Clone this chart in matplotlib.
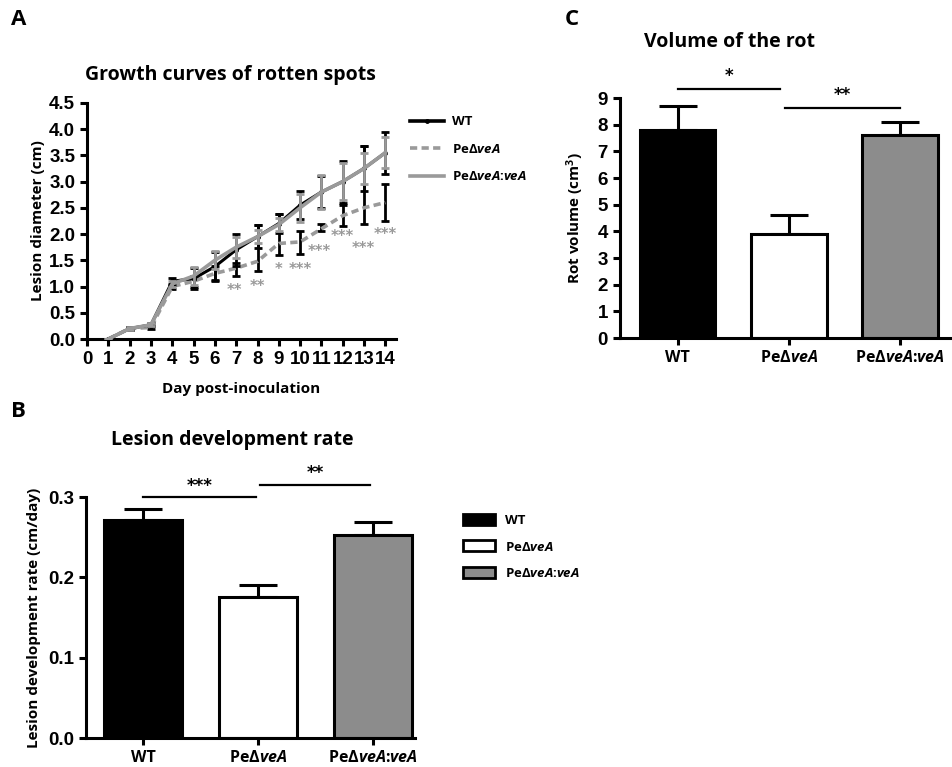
import numpy as np
import matplotlib
matplotlib.use("Agg")
from matplotlib import pyplot as plt
from matplotlib.patches import Patch
from matplotlib.lines import Line2D

plt.rcParams['font.family'] = ['Open Sans', 'DejaVu Sans']
plt.rcParams['font.weight'] = 'bold'
plt.rcParams['axes.labelweight'] = 'bold'
plt.rcParams['mathtext.fontset'] = 'custom'
plt.rcParams['mathtext.it'] = 'Open Sans:italic:bold'
plt.rcParams['mathtext.rm'] = 'Open Sans:bold'

# ---- data ----
strains = ['WT', 'PeΔ$\\mathit{veA}$', 'PeΔ$\\mathit{veA}$:$\\mathit{veA}$']

days = [1, 2, 3, 4, 5, 6, 7, 8, 9, 10, 11, 12, 13, 14]
wt_diam = [0.0, 0.2, 0.27, 1.1, 1.15, 1.38, 1.7, 1.95, 2.2, 2.55, 2.8, 3.0, 3.25, 3.55]
wt_err = [0.0, 0.02, 0.03, 0.07, 0.2, 0.27, 0.3, 0.22, 0.18, 0.27, 0.3, 0.4, 0.43, 0.4]
dv_diam = [0.0, 0.2, 0.22, 1.0, 1.1, 1.25, 1.35, 1.48, 1.82, 1.85, 2.1, 2.35, 2.5, 2.6]
dv_err_lo = [0.0, 0.02, 0.02, 0.05, 0.1, 0.12, 0.15, 0.18, 0.22, 0.23, 0.05, 0.2, 0.3, 0.35]
dv_err_hi = [0.0, 0.02, 0.02, 0.05, 0.1, 0.15, 0.1, 0.69, 0.56, 0.2, 0.1, 0.2, 1.18, 0.35]
cp_diam = [0.0, 0.2, 0.27, 1.05, 1.2, 1.5, 1.75, 1.95, 2.18, 2.5, 2.8, 3.0, 3.25, 3.55]
cp_err = [0.0, 0.02, 0.03, 0.05, 0.17, 0.17, 0.2, 0.12, 0.12, 0.27, 0.33, 0.35, 0.3, 0.3]

star_days = [6.9, 8.0, 9.0, 10.0, 10.9, 12.0, 12.95, 14.0]
star_y = [0.92, 1.0, 1.33, 1.33, 1.66, 1.96, 1.72, 2.0]
star_txt = ['**', '**', '*', '***', '***', '***', '***', '***']

rate = [0.272, 0.176, 0.253]
rate_err = [0.013, 0.014, 0.016]

volume = [7.8, 3.9, 7.6]
volume_err = [0.9, 0.72, 0.5]

bar_colors = ['black', 'white', '#8c8c8c']
gray = '#9a9a9a'
lw = 2.2

fig = plt.figure(figsize=(9.52, 7.67), dpi=100)

def style_axes(ax):
	for s in ['top', 'right']:
		ax.spines[s].set_visible(False)
	for s in ['left', 'bottom']:
		ax.spines[s].set_linewidth(lw)
	ax.tick_params(width=lw, length=5, direction='out')
	for lab in ax.get_yticklabels():
		lab.set_family('Liberation Sans')
		lab.set_fontweight('bold')
		lab.set_fontsize(13.5)

# ---- panel A ----
axA = fig.add_axes([0.0914, 0.558, 0.3246, 0.308])
axA.errorbar(days, wt_diam, yerr=wt_err, color='black', lw=2.2, capsize=3, capthick=2, elinewidth=2,
	marker='o', ms=2.5, zorder=3)
axA.errorbar(days, dv_diam, yerr=[dv_err_lo, dv_err_hi], color=gray, lw=2.6, ls=(0, (2, 1.2)), capsize=3,
	capthick=2, elinewidth=2, ecolor='black', zorder=2)
axA.errorbar(days, cp_diam, yerr=cp_err, color=gray, lw=2.6, capsize=3, capthick=2, elinewidth=2, zorder=4)
for x, y, t in zip(star_days, star_y, star_txt):
	axA.text(x, y, t, ha='center', va='center', fontsize=10.5, color=gray, family='DejaVu Sans')
axA.set_xlim(0, 14.5)
axA.set_ylim(0, 4.5)
axA.set_xticks(range(0, 15))
axA.set_yticks(np.arange(0, 4.6, 0.5))
axA.set_yticklabels(['%.1f' % v for v in np.arange(0, 4.6, 0.5)])
style_axes(axA)
for lab in axA.get_xticklabels():
	lab.set_family('Liberation Sans')
	lab.set_fontweight('bold')
	lab.set_fontsize(13.5)
axA.set_xlabel('Day post-inoculation', fontsize=11, labelpad=10)
axA.set_ylabel('Lesion diameter (cm)', fontsize=11, labelpad=3)
axA.spines['left'].set_bounds(0, 4.5)
fig.text(0.242, 0.902, 'Growth curves of rotten spots', ha='center', va='center', fontsize=14)
fig.text(0.012, 0.975, 'A', fontsize=16, va='center')

legA = [Line2D([0], [0], color='black', lw=2.6, marker='o', ms=2.5),
	Line2D([0], [0], color=gray, lw=2.6, ls=(0, (2, 1.2))),
	Line2D([0], [0], color=gray, lw=2.6)]
fig.legend(legA, strains, loc='upper left', bbox_to_anchor=(0.418, 0.865), frameon=False,
	fontsize=9.5, handlelength=2.6, handletextpad=0.6, labelspacing=1.1)

# ---- panel B ----
xpos = np.arange(3)
axB = fig.add_axes([0.0903, 0.0378, 0.3457, 0.3142])
axB.bar(xpos, rate, width=0.68, color=bar_colors, edgecolor='black', linewidth=2.2, zorder=2)
axB.errorbar(xpos, rate, yerr=[[0, 0, 0], rate_err], fmt='none', ecolor='black', elinewidth=2.2,
	capsize=14, capthick=2.2, zorder=1)
axB.set_xlim(-0.5, 2.37)
axB.set_ylim(0, 0.3)
axB.set_yticks([0.0, 0.1, 0.2, 0.3])
axB.set_yticklabels(['0.0', '0.1', '0.2', '0.3'])
axB.set_xticks(xpos)
axB.set_xticklabels(strains, fontsize=11.5)
style_axes(axB)
axB.set_ylabel('Lesion development rate (cm/day)', fontsize=11, labelpad=5)
axB.plot([0.0, 0.98], [0.2998, 0.2998], color='black', lw=1.6, clip_on=False)
axB.text(0.49, 0.303, '***', ha='center', va='bottom', fontsize=12, family='DejaVu Sans')
axB.plot([1.02, 1.98], [0.3155, 0.3155], color='black', lw=1.6, clip_on=False)
axB.text(1.5, 0.319, '**', ha='center', va='bottom', fontsize=12, family='DejaVu Sans')
fig.text(0.244, 0.426, 'Lesion development rate', ha='center', va='center', fontsize=14)
fig.text(0.012, 0.463, 'B', fontsize=16, va='center')

legB = [Patch(facecolor=c, edgecolor='black', linewidth=2) for c in bar_colors]
fig.legend(legB, strains, loc='upper left', bbox_to_anchor=(0.474, 0.345), frameon=False,
	fontsize=9.5, handlelength=2.4, handleheight=0.9, labelspacing=1.0)

# ---- panel C ----
axC = fig.add_axes([0.651, 0.5593, 0.347, 0.3129])
axC.bar(xpos, volume, width=0.68, color=bar_colors, edgecolor='black', linewidth=2.2, zorder=2)
axC.errorbar(xpos, volume, yerr=[[0, 0, 0], volume_err], fmt='none', ecolor='black', elinewidth=2.2,
	capsize=14, capthick=2.2, zorder=1)
axC.set_xlim(-0.52, 2.45)
axC.set_ylim(0, 9)
axC.set_yticks(range(0, 10))
axC.set_xticks(xpos)
axC.set_xticklabels(strains, fontsize=11.5)
style_axes(axC)
axC.set_ylabel('Rot volume (cm$^3$)', fontsize=11, labelpad=8)
axC.plot([0.0, 0.92], [9.34, 9.34], color='black', lw=1.6, clip_on=False)
axC.text(0.46, 9.5, '*', ha='center', va='bottom', fontsize=12, family='DejaVu Sans')
axC.plot([0.97, 2.0], [8.62, 8.62], color='black', lw=1.6, clip_on=False)
axC.text(1.48, 8.78, '**', ha='center', va='bottom', fontsize=12, family='DejaVu Sans')
fig.text(0.766, 0.945, 'Volume of the rot', ha='center', va='center', fontsize=14)
fig.text(0.593, 0.975, 'C', fontsize=16, va='center')

fig.savefig('out.png', dpi=100)
